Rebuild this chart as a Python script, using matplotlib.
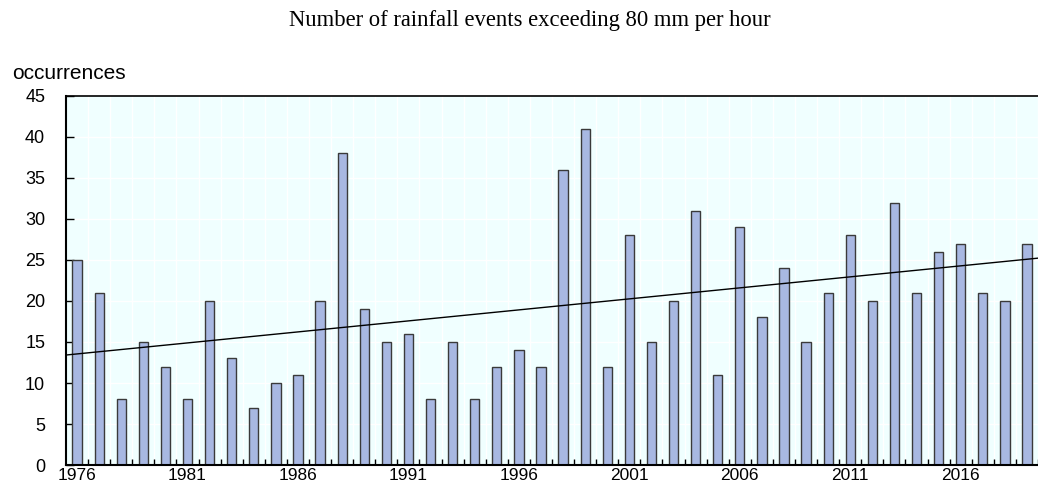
import numpy as np
import matplotlib as mpl
import matplotlib.pyplot as plt
mpl.use('agg')

##--##--  data  --##--##
years = list(range(1976, 2020))
events = [25, 21, 8, 15, 12, 8, 20, 13, 7, 10,
          11, 20, 38, 19, 15, 16, 8, 15, 8, 12,
          14, 12, 36, 41, 12, 28, 15, 20, 31, 11,
          29, 18, 24, 15, 21, 28, 20, 32, 21, 26,
          27, 21, 20, 27]
tick_years = [1976, 1981, 1986, 1991, 1996, 2001, 2006, 2011, 2016]

x = np.arange(len(years))
coef = np.polyfit(x, events, 1)

##--##--  figure  --##--##
fig = plt.figure(figsize=(10.38, 4.86), dpi=100)
ax = fig.add_axes([0.0636, 0.0432, 0.9364, 0.7593])
ax.set_facecolor('#F0FFFF')

# white grid on category boundaries and every 5 occurrences
for b in np.arange(0.5, len(years), 1.0):
  ax.axvline(b, color='white', linewidth=1.0, zorder=0.5)
for yv in range(5, 45, 5):
  ax.axhline(yv, color='white', linewidth=1.0, zorder=0.5)

ax.bar(x, events, width=0.42, color='#A8B8E2', edgecolor='#3a3a3a', linewidth=1.0, zorder=2)

xl = np.array([-0.5, len(years) - 0.5])
ax.plot(xl, np.polyval(coef, xl), color='black', linewidth=1.0, zorder=3)

ax.set_xlim(-0.5, 43.19)
ax.set_ylim(0, 45)

ax.set_yticks(np.arange(0, 46, 5))
ax.tick_params(axis='y', direction='in', length=6, width=1.0, labelsize=13, pad=15)
ax.set_xticks([years.index(t) for t in tick_years])
ax.set_xticklabels([str(t) for t in tick_years])
ax.tick_params(axis='x', length=0, labelsize=12.5, pad=2)
ax.set_xticks(np.arange(0.5, len(years), 1.0), minor=True)
ax.tick_params(axis='x', which='minor', direction='in', length=4, width=1.0)

for lab in ax.get_xticklabels() + ax.get_yticklabels():
  lab.set_fontfamily('Liberation Sans')

ax.spines['right'].set_visible(False)
ax.spines['left'].set_linewidth(1.5)
ax.spines['bottom'].set_linewidth(1.5)
ax.spines['top'].set_linewidth(1.2)

fig.text(0.0116, 0.837, 'occurrences', fontsize=15, family='Liberation Sans', ha='left', va='baseline')
fig.text(0.51, 0.957, 'Number of rainfall events exceeding 80 mm per hour', fontsize=16.3,
         family='Liberation Serif', ha='center', va='center')

fig.savefig('out.png', dpi=100)
